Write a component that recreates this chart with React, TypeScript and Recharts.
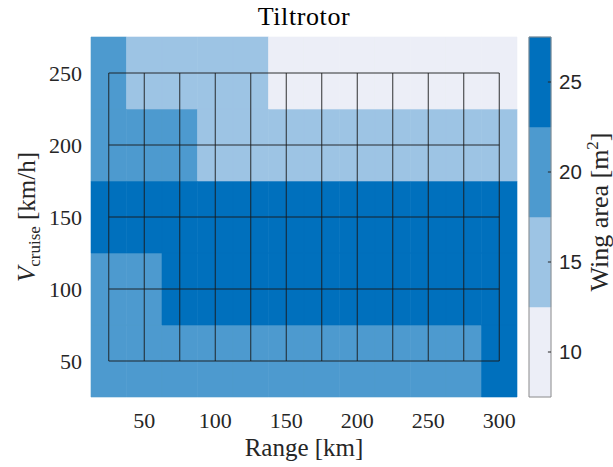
import React from 'react';
import {
  ComposedChart,
  XAxis,
  YAxis,
  ReferenceArea,
  ReferenceLine,
  Label,
} from 'recharts';

// grid points of the sweep
const rangeKm = [25, 50, 75, 100, 125, 150, 175, 200, 225, 250, 275, 300];
const vCruise = [50, 100, 150, 200, 250];

// wing area [m^2] per cruise speed row (read from the filled levels)
const area50 = [20, 20, 20, 20, 20, 20, 20, 20, 20, 20, 20, 25];
const area100 = [20, 20, 25, 25, 25, 25, 25, 25, 25, 25, 25, 25];
const area150 = [25, 25, 25, 25, 25, 25, 25, 25, 25, 25, 25, 25];
const area200 = [20, 20, 20, 15, 15, 15, 15, 15, 15, 15, 15, 15];
const area250 = [20, 15, 15, 15, 15, 10, 10, 10, 10, 10, 10, 10];
const areaRows = [area50, area100, area150, area200, area250];

const xTicks = [50, 100, 150, 200, 250, 300];
const yTicks = [50, 100, 150, 200, 250];
const levelEdges = [7.5, 12.5, 17.5, 22.5, 27.5];
const cbTicks = [10, 15, 20, 25];
const levelColors = ['#ECEEF7', '#9DC4E4', '#4D9ACF', '#0070BD'];

const serif = "'Liberation Serif', 'DejaVu Serif', serif";
const sans = "'Liberation Sans', Arial, sans-serif";
const textColor = '#262626';

const dx = 12.5;
const dy = 25;

function colorFor(v: number) {
  for (let i = 0; i < levelColors.length; i++) {
    if (v < levelEdges[i + 1]) return levelColors[i];
  }
  return levelColors[levelColors.length - 1];
}

const cells = vCruise.flatMap((v, j) =>
  rangeKm.map((r, i) => ({ r, v, area: areaRows[j][i] }))
);

// two dummy points so the colorbar x axis has a 0..1 extent
const cbData = [{ x: 0 }, { x: 1 }];

function YTitle(props: any) {
  const vb = props.viewBox || { x: 31, y: 37, height: 360 };
  const cy = vb.y + vb.height / 2;
  return (
    <text
      transform={`translate(35,${cy}) rotate(-90)`}
      textAnchor="middle"
      fill={textColor}
      style={{ fontFamily: serif, fontSize: 25 }}
    >
      <tspan fontStyle="italic">V</tspan>
      <tspan style={{ fontSize: 17 }} dy={5}>cruise</tspan>
      <tspan dy={-5}> [km/h]</tspan>
    </text>
  );
}

function XTitle(props: any) {
  const vb = props.viewBox || { x: 91, width: 426 };
  return (
    <text
      x={vb.x + vb.width / 2}
      y={456}
      textAnchor="middle"
      fill={textColor}
      style={{ fontFamily: serif, fontSize: 25 }}
    >
      Range [km]
    </text>
  );
}

function CbTitle(props: any) {
  const vb = props.viewBox || { y: 37, height: 360 };
  const cy = vb.y + vb.height / 2;
  return (
    <text
      transform={`translate(608,${cy - 5}) rotate(-90)`}
      textAnchor="middle"
      fill={textColor}
      style={{ fontFamily: serif, fontSize: 26 }}
    >
      Wing area [m<tspan style={{ fontSize: 17 }} dy={-10}>2</tspan>
      <tspan dy={10}>]</tspan>
    </text>
  );
}

const serifTick = { fill: textColor, style: { fontFamily: serif, fontSize: 22 } };
const sansTick = { fill: textColor, style: { fontFamily: sans, fontSize: 20.5 } };

export default function App() {
  return (
    <div
      style={{
        position: 'absolute',
        left: 0,
        top: 0,
        width: 613,
        height: 467,
        background: '#fff',
      }}
    >
      <svg
        width={613}
        height={40}
        style={{ position: 'absolute', left: 0, top: 0 }}
      >
        <text
          x={304}
          y={25}
          textAnchor="middle"
          fill="#000"
          style={{ fontFamily: serif, fontSize: 26, letterSpacing: 0.6 }}
        >
          Tiltrotor
        </text>
      </svg>

      <div style={{ position: 'absolute', left: 0, top: 0 }}>
        <ComposedChart
          width={613}
          height={467}
          margin={{ top: 37, right: 96, bottom: 30, left: 31 }}
        >
          <XAxis
            type="number"
            dataKey="r"
            domain={[12.5, 312.5]}
            ticks={xTicks}
            allowDataOverflow
            axisLine={false}
            tickLine={false}
            height={40}
            tickMargin={9}
            tick={serifTick}
          >
            <Label content={<XTitle />} />
          </XAxis>
          <YAxis
            type="number"
            domain={[25, 275]}
            ticks={yTicks}
            allowDataOverflow
            axisLine={false}
            tickLine={false}
            width={60}
            tickMargin={3}
            tick={serifTick}
          >
            <Label content={<YTitle />} />
          </YAxis>

          {cells.map((c) => (
            <ReferenceArea
              key={`c-${c.r}-${c.v}`}
              x1={c.r - dx}
              x2={c.r + dx}
              y1={c.v - dy}
              y2={c.v + dy}
              fill={colorFor(c.area)}
              fillOpacity={1}
              stroke={colorFor(c.area)}
              strokeWidth={0.6}
              ifOverflow="visible"
            />
          ))}

          {rangeKm.map((r) => (
            <ReferenceLine
              key={`gx-${r}`}
              segment={[
                { x: r, y: vCruise[0] },
                { x: r, y: vCruise[vCruise.length - 1] },
              ]}
              stroke="#1a1a1a"
              strokeWidth={0.9}
              ifOverflow="visible"
            />
          ))}
          {vCruise.map((v) => (
            <ReferenceLine
              key={`gy-${v}`}
              segment={[
                { x: rangeKm[0], y: v },
                { x: rangeKm[rangeKm.length - 1], y: v },
              ]}
              stroke="#1a1a1a"
              strokeWidth={0.9}
              ifOverflow="visible"
            />
          ))}
        </ComposedChart>
      </div>

      {/* colorbar */}
      <div style={{ position: 'absolute', left: 0, top: 0 }}>
        <ComposedChart
          width={613}
          height={467}
          data={cbData}
          margin={{ top: 37, right: 12, bottom: 70, left: 529 }}
        >
          <XAxis type="number" dataKey="x" domain={[0, 1]} allowDataOverflow hide />
          <YAxis
            type="number"
            orientation="right"
            domain={[7.5, 27.5]}
            ticks={cbTicks}
            allowDataOverflow
            axisLine={false}
            tickLine={false}
            width={50}
            tickMargin={2}
            tick={sansTick}
          >
            <Label content={<CbTitle />} />
          </YAxis>
          {levelColors.map((col, i) => (
            <ReferenceArea
              key={`lv-${i}`}
              x1={0}
              x2={1}
              y1={levelEdges[i]}
              y2={levelEdges[i + 1]}
              fill={col}
              fillOpacity={1}
              stroke={col}
              strokeWidth={0.5}
              ifOverflow="visible"
            />
          ))}
          {cbTicks.map((t) => (
            <ReferenceLine
              key={`ct-${t}`}
              segment={[
                { x: 0.86, y: t },
                { x: 1, y: t },
              ]}
              stroke="#262626"
              strokeWidth={1}
              ifOverflow="visible"
            />
          ))}
          <ReferenceArea
            x1={0}
            x2={1}
            y1={levelEdges[0]}
            y2={levelEdges[levelEdges.length - 1]}
            fill="none"
            fillOpacity={0}
            stroke="#8c8c8c"
            strokeWidth={1}
            ifOverflow="visible"
          />
        </ComposedChart>
      </div>
    </div>
  );
}
